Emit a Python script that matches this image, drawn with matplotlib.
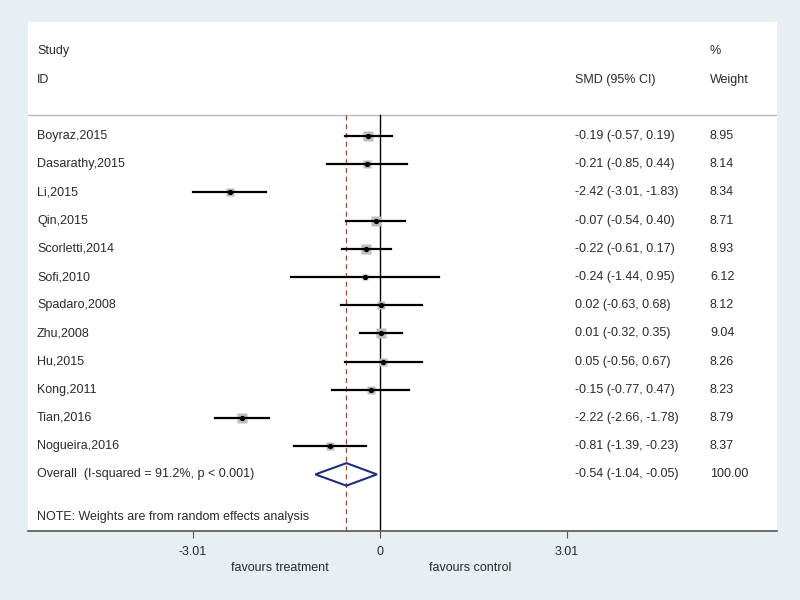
import numpy as np
import matplotlib
matplotlib.use("Agg")
from matplotlib import pyplot as plt
from matplotlib.patches import Polygon
import matplotlib.transforms as mtransforms

plt.rcParams['font.family'] = ['Liberation Sans', 'DejaVu Sans']
plt.rcParams['text.color'] = '#2a2a2a'

studies = ['Boyraz,2015', 'Dasarathy,2015', 'Li,2015', 'Qin,2015', 'Scorletti,2014',
           'Sofi,2010', 'Spadaro,2008', 'Zhu,2008', 'Hu,2015', 'Kong,2011',
           'Tian,2016', 'Nogueira,2016']
smd = [-0.19, -0.21, -2.42, -0.07, -0.22, -0.24, 0.02, 0.01, 0.05, -0.15, -2.22, -0.81]
lo = [-0.57, -0.85, -3.01, -0.54, -0.61, -1.44, -0.63, -0.32, -0.56, -0.77, -2.66, -1.39]
hi = [0.19, 0.44, -1.83, 0.40, 0.17, 0.95, 0.68, 0.35, 0.67, 0.47, -1.78, -0.23]
weight = [8.95, 8.14, 8.34, 8.71, 8.93, 6.12, 8.12, 9.04, 8.26, 8.23, 8.79, 8.37]
overall = (-0.54, -1.04, -0.05)
overall_label = 'Overall  (I-squared = 91.2%, p < 0.001)'
xticks = [-3.01, 0, 3.01]

bg = '#e7eff2'
fig = plt.figure(figsize=(8, 6), dpi=100, facecolor=bg)
# white panel in pixel coords: x 28..777, y 22..531
ax = fig.add_axes([28/800, (600-531)/600, (777-28)/800, (531-22)/600])
ax.set_facecolor('white')

ppu = 187/3.01
xmin = (28-380)/ppu
xmax = (777-380)/ppu
row_h = 28.2
ax.set_xlim(xmin, xmax)
ax.set_ylim((531-136)/row_h, (22-136)/row_h)

for s in ['top', 'right', 'left']:
    ax.spines[s].set_visible(False)
ax.spines['bottom'].set_color('#555555')
ax.spines['bottom'].set_linewidth(1.2)
ax.set_yticks([])
ax.set_xticks(xticks)
ax.set_xticklabels(['-3.01', '0', '3.01'], fontsize=9, color='#2a2a2a')
ax.tick_params(axis='x', direction='out', length=5, color='#555555', pad=6)

txt_x = (37-380)/ppu
smd_x = (575-380)/ppu
w_x = (710-380)/ppu
fs = 9

ax.text(txt_x, (51-136)/row_h, 'Study', fontsize=fs, va='center')
ax.text(txt_x, (80-136)/row_h, 'ID', fontsize=fs, va='center')
ax.text(smd_x, (80-136)/row_h, 'SMD (95% CI)', fontsize=fs, va='center')
ax.text(w_x, (51-136)/row_h, '%', fontsize=fs, va='center')
ax.text(w_x, (80-136)/row_h, 'Weight', fontsize=fs, va='center')
ax.axhline((115-136)/row_h, color='#bbbbbb', lw=1)

top = (115-136)/row_h
bottom = (531-136)/row_h
ax.plot([0, 0], [top, bottom], color='black', lw=1)
ax.plot([overall[0], overall[0]], [top, bottom], color='#c0392b', lw=0.9, ls=(0, (4, 3)))

for i, name in enumerate(studies):
    ax.plot(smd[i], i, marker='s', ms=weight[i]*0.75, color='#bdbdbd', mec='none', zorder=2)
    ax.plot([lo[i], hi[i]], [i, i], color='black', lw=1.6, zorder=3)
    ax.plot(smd[i], i, marker='o', ms=2.8, color='black', zorder=4)
    ax.text(txt_x, i, name, fontsize=fs, va='center')
    ax.text(smd_x, i, '%.2f (%.2f, %.2f)' % (smd[i], lo[i], hi[i]), fontsize=fs, va='center')
    ax.text(w_x, i, '%.2f' % weight[i], fontsize=fs, va='center')

yo = len(studies)
dh = 0.4
diamond = Polygon([[overall[1], yo], [overall[0], yo - dh], [overall[2], yo], [overall[0], yo + dh]],
                  closed=True, fill=False, edgecolor='#1f2f80', lw=1.5, zorder=5)
ax.add_patch(diamond)
ax.text(txt_x, yo, overall_label, fontsize=fs, va='center')
ax.text(smd_x, yo, '%.2f (%.2f, %.2f)' % overall, fontsize=fs, va='center')
ax.text(w_x, yo, '100.00', fontsize=fs, va='center')

ax.text(txt_x, (517-136)/row_h, 'NOTE: Weights are from random effects analysis', fontsize=fs, va='center')

trans = mtransforms.blended_transform_factory(ax.transData, fig.transFigure)
ax.text(-1.61, 1 - 568/600, 'favours treatment', fontsize=fs, ha='center', va='center', transform=trans)
ax.text(1.45, 1 - 568/600, 'favours control', fontsize=fs, ha='center', va='center', transform=trans)

fig.savefig('out.png', dpi=100, facecolor=bg)
